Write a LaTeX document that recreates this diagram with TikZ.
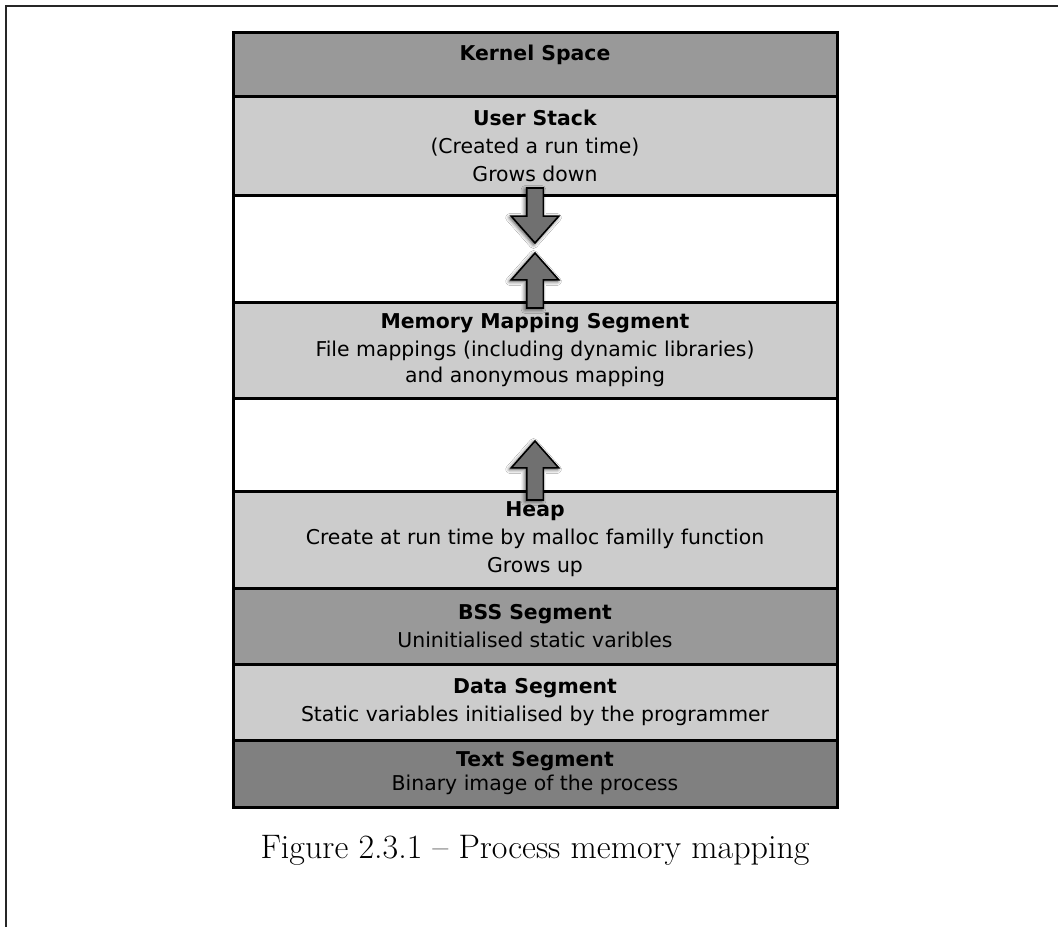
\documentclass[tikz,border=0pt]{standalone}
\usepackage{fontspec}
\usepackage{tikz}
\usetikzlibrary{positioning}
\usetikzlibrary{shapes, shapes.arrows}
\usetikzlibrary{shadows, shadows.blur}
\newfontfamily\segfamily{DejaVu Sans}
\newcommand{\segfont}{\segfamily\fontsize{20.4}{28}\selectfont}
\newcommand{\captfont}{\fontsize{34}{40}\selectfont}
\definecolor{kernelgray}{gray}{0.6}
\definecolor{usergray}{gray}{0.8}
\definecolor{codegray}{gray}{0.5}
\definecolor{arrowgray}{gray}{0.44}
\tikzstyle{segment} = [%
					draw, 
					line width = 3pt,
					minimum width = 604pt,
					inner sep = 0pt,
					outer sep = 0pt,
					align = center,
					font = \segfont]
\tikzstyle{growarrow} = [%
					single arrow,
					draw,
					line width = 1.6pt,
					fill = arrowgray,
					inner xsep = 0pt,
					inner ysep = 7.5pt,
					single arrow head extend = 15.5pt,
					single arrow tip angle = 83,
					outer sep = 0pt,
					anchor = tip,
					blur shadow={shadow xshift=-1.5pt, shadow yshift=-1.5pt, shadow blur radius=4pt, shadow opacity=75}]

\begin{document}
\begin{tikzpicture}[x=1pt,y=-1pt]
	
	\useasboundingbox (0,0) rectangle (1058,927);
	
	% Page frame
	\draw[line width=1.5pt, black!85] (1058,6) -- (6,6) -- (6,927);
	
	% Segments
	\node[segment, fill=kernelgray, minimum height=64pt, anchor=north] at (535,32) (kernel) {};
	\node[segment, fill=usergray, minimum height=99pt, below=0pt of kernel] (stack) {\textbf{User Stack}\\(Created a run time)\\Grows down};
	\node[segment, fill=white, minimum height=107pt, below=0pt of stack] (gapA) {};
	\node[segment, fill=usergray, minimum height=96pt, below=0pt of gapA] (mmap) {\textbf{Memory Mapping Segment}\\File mappings (including dynamic libraries)\\[-2pt]and anonymous mapping};
	\node[segment, fill=white, minimum height=93pt, below=0pt of mmap] (gapB) {};
	\node[segment, fill=usergray, minimum height=97pt, below=0pt of gapB] (heap) {\textbf{Heap}\\Create at run time by malloc familly function\\Grows up};
	\node[segment, fill=kernelgray, minimum height=76pt, below=0pt of heap] (bss) {\textbf{BSS Segment}\\Uninitialised static varibles};
	\node[segment, fill=usergray, minimum height=76pt, below=0pt of bss] (data) {\textbf{Data Segment}\\Static variables initialised by the programmer};
	\node[segment, fill=codegray, minimum height=67pt, below=0pt of data] (text) {\textbf{Text Segment}\\[-4pt]Binary image of the process};
	
	% Kernel label
	\node[font=\segfont\bfseries, inner sep=0pt, below=13pt of kernel.north] (kernellabel) {Kernel Space};
	
	% Arrows
	\node[growarrow, minimum height=55pt, rotate=-90] at (535,243) (stackgrow) {};
	\node[growarrow, minimum height=55pt, rotate=90] at (535,253) (mmapgrow) {};
	\node[growarrow, minimum height=59pt, rotate=90] at (535,441) (heapgrow) {};
	
	% Caption
	\node[font=\captfont, inner sep=0pt, anchor=base] at (535,858) (caption) {Figure 2.3.1 \textendash{} Process memory mapping};
\end{tikzpicture}
\end{document}
